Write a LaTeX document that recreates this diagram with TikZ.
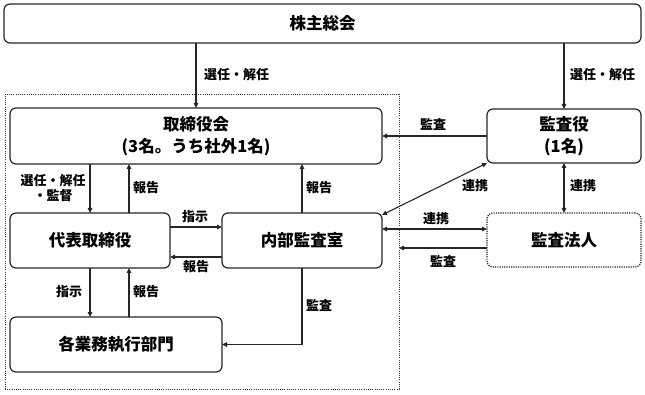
\documentclass[tikz,border=0pt]{standalone}
\usepackage{fontspec}
\setmainfont{Noto Sans CJK JP}
\usetikzlibrary{arrows.meta,calc}
\begin{document}
\begin{tikzpicture}[x=1pt,y=-1pt,
  box/.style={draw=black!85,line width=1.2pt,rounded corners=6pt,inner sep=0pt,outer sep=0pt,font=\fontsize{16.5}{22}\selectfont\bfseries,align=center},
  dotbox/.style={box,draw=black!85,dash pattern=on 1.2pt off 1.1pt},
  grpbox/.style={draw=black!80,line width=0.8pt,dash pattern=on 1pt off 1.2pt,inner sep=0pt,outer sep=0pt},
  arr/.style={draw=black!85,line width=1.1pt,-{Triangle[length=5pt,width=4.5pt]}},
  darr/.style={draw=black!85,line width=1.1pt,{Triangle[length=5pt,width=4.5pt]}-{Triangle[length=5pt,width=4.5pt]}},
  lbl/.style={font=\fontsize{13}{15}\selectfont\bfseries,inner sep=0pt,align=center}]
\useasboundingbox (0,0) rectangle (645,395);
% group region
\node[grpbox,minimum width=394pt,minimum height=295pt] (grp) at (202,241.5) {};
% boxes
\node[box,minimum width=637pt,minimum height=39pt] (soukai) at (322.5,23.5) {株主総会};
\node[box,minimum width=372pt,minimum height=56pt] (torikai) at (196,136) {取締役会\\(3名。うち社外1名)};
\node[box,minimum width=154pt,minimum height=54pt] (kansayaku) at (564,136) {監査役\\(1名)};
\node[box,minimum width=160pt,minimum height=55pt] (daihyo) at (90,240.5) {代表取締役};
\node[box,minimum width=160pt,minimum height=55pt] (naibu) at (302,240.5) {内部監査室};
\node[box,minimum width=212pt,minimum height=55pt] (kaku) at (116,344.5) {各業務執行部門};
\node[dotbox,minimum width=154pt,minimum height=54pt] (hojin) at (564,240) {監査法人};
% helper coordinates
\coordinate (r1) at ([xshift=39pt]daihyo.north);
\coordinate (r2) at ([xshift=39pt]daihyo.south);
\coordinate (h1) at ([yshift=13.5pt]daihyo.east);
\coordinate (h2) at ([yshift=-16.5pt]daihyo.east);
\coordinate (n1) at ([yshift=25.5pt]naibu.east);
\coordinate (n2) at ([yshift=11.5pt]naibu.east);
\coordinate (j1) at ([yshift=-8pt]hojin.west);
% connectors
\draw[arr] (soukai.south -| torikai.north) -- (torikai.north);
\draw[arr] (soukai.south -| kansayaku.north) -- (kansayaku.north);
\draw[arr] (torikai.south -| daihyo.north) -- (daihyo.north);
\draw[arr] (r1) -- (r1 |- torikai.south);
\draw[arr] (naibu.north) -- (naibu.north |- torikai.south);
\draw[arr] (h1) -- (h1 -| naibu.west);
\draw[arr] (h2 -| naibu.west) -- (h2);
\draw[arr] (daihyo.south) -- (daihyo.south |- kaku.north);
\draw[arr] (r2 |- kaku.north) -- (r2);
\draw[arr] (naibu.south) |- (kaku.east);
\draw[arr] (kansayaku.west) -- (torikai.east);
\draw[darr] (kansayaku.south west) -- (n1);
\draw[darr] (kansayaku.south) -- (hojin.north);
\draw[darr] (n2) -- (n2 -| hojin.west);
\draw[arr] (j1) -- (j1 -| grp.east);
% labels
\node[lbl,anchor=west] (l1) at (204,75) {選任・解任};
\node[lbl,anchor=west] (l2) at (570,75) {選任・解任};
\node[lbl] (l3) at (433,124) {監査};
\node[lbl] (l4) at (53,188.5) {選任・解任\\・監督};
\node[lbl] (l5) at (146,188) {報告};
\node[lbl] (l6) at (319,188) {報告};
\node[lbl] (l7) at (195,217) {指示};
\node[lbl] (l8) at (196,267) {報告};
\node[lbl] (l9) at (69,292) {指示};
\node[lbl] (l10) at (146,292) {報告};
\node[lbl] (l11) at (319,305) {監査};
\node[lbl] (l12) at (475,186) {連携};
\node[lbl] (l13) at (583,186) {連携};
\node[lbl] (l14) at (436,219) {連携};
\node[lbl] (l15) at (443,261) {監査};
\end{tikzpicture}
\end{document}
